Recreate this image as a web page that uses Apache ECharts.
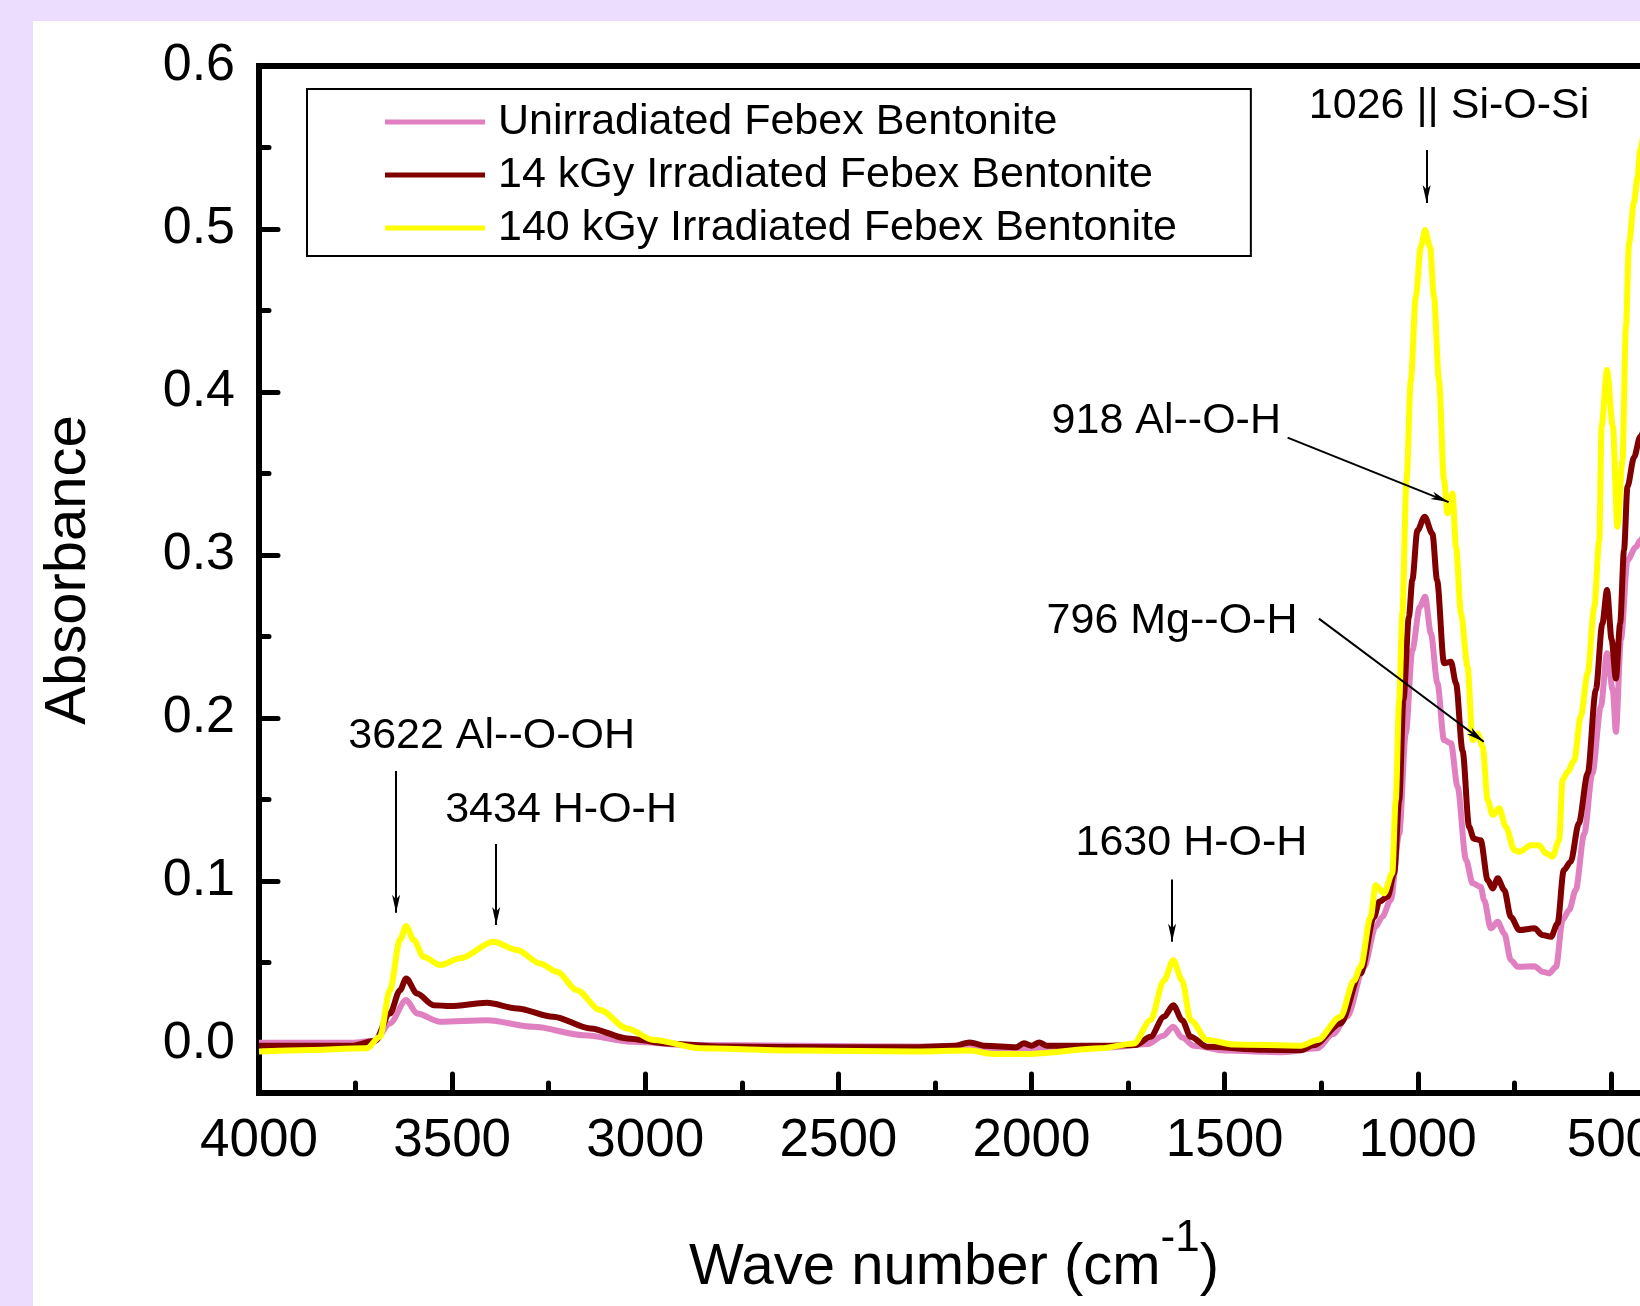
<!DOCTYPE html>
<html>
<head>
<meta charset="utf-8">
<title>FTIR Febex Bentonite</title>
<script src="https://cdn.jsdelivr.net/npm/echarts@6/dist/echarts.min.js"></script>
<style>
html, body { margin: 0; padding: 0; background: #ecdcfd; overflow: hidden; width: 1640px; height: 1306px; }
#main { position: absolute; left: 33px; top: 21px; width: 1807px; height: 1285px; background: #fff; }
</style>
</head>
<body>
<div id="main"></div>
<script>
var FONT = "'Liberation Sans', Arial, sans-serif";

var seriesNames = ['Unirradiated Febex Bentonite', '14 kGy Irradiated Febex Bentonite', '140 kGy Irradiated Febex Bentonite'];
var seriesColors = ['#e080c0', '#800000', '#ffff00'];

// Unirradiated (pink)
var unirrWn  = [4000, 3760, 3700, 3661, 3619, 3591, 3531, 3410, 3289, 3160, 3030, 2900, 2600, 2300, 2160, 2100, 2000, 1800, 1700, 1660, 1633, 1610, 1580, 1500, 1350, 1260, 1220, 1183, 1139, 1109, 1092, 1070, 1048, 1031, 1014, 995, 981, 966, 949, 932, 914, 897, 875, 858, 837, 828, 811, 793, 776, 759, 741, 698, 677, 660, 642, 625, 608, 591, 569, 548, 526, 510, 495, 487, 474, 457, 435, 424, 410];
var unirrAbs = [0.0008, 0.0008, 0.002, 0.0127, 0.027, 0.0188, 0.0137, 0.0147, 0.0106, 0.0055, 0.0014, -0.0005, -0.001, -0.0015, -0.001, -0.003, -0.003, -0.002, 0.0, 0.005, 0.0106, 0.004, -0.001, -0.004, -0.005, -0.0026, 0.006, 0.0168, 0.0474, 0.072, 0.078, 0.0883, 0.129, 0.1906, 0.2417, 0.268, 0.2744, 0.252, 0.2213, 0.1865, 0.1845, 0.158, 0.113, 0.0986, 0.0965, 0.0883, 0.071, 0.075, 0.0679, 0.0515, 0.0474, 0.0478, 0.0444, 0.0434, 0.0474, 0.0761, 0.0822, 0.0945, 0.129, 0.166, 0.207, 0.2397, 0.2172, 0.1916, 0.248, 0.297, 0.305, 0.309, 0.315];

// 14 kGy (dark red)
var kgy14Wn  = [4000, 3760, 3700, 3661, 3635, 3619, 3591, 3548, 3505, 3410, 3332, 3238, 3142, 3047, 2944, 2800, 2500, 2300, 2200, 2160, 2120, 2040, 2020, 2000, 1980, 1960, 1800, 1730, 1692, 1657, 1633, 1610, 1588, 1545, 1400, 1303, 1269, 1200, 1148, 1113, 1100, 1078, 1061, 1048, 1037, 1023, 1014, 1001, 982, 962, 950, 932, 914, 901, 884, 867, 855, 837, 819, 806, 793, 776, 759, 737, 698, 677, 655, 638, 622, 604, 583, 560, 539, 522, 510, 498, 487, 476, 466, 457, 440, 424, 410];
var kgy14Abs = [-0.001, -0.001, 0.002, 0.0188, 0.033, 0.0403, 0.031, 0.0239, 0.0233, 0.0253, 0.0219, 0.0168, 0.0096, 0.0035, 0.0004, -0.0015, -0.002, -0.002, -0.001, 0.001, -0.001, -0.002, 0.0005, -0.001, 0.001, -0.001, -0.001, -0.0005, 0.0045, 0.0168, 0.0239, 0.0147, 0.0045, -0.0017, -0.0035, -0.0037, -0.0006, 0.0127, 0.0434, 0.078, 0.0873, 0.0904, 0.1047, 0.1497, 0.211, 0.262, 0.2847, 0.315, 0.3235, 0.313, 0.2847, 0.2336, 0.2346, 0.2213, 0.180, 0.1333, 0.126, 0.125, 0.1006, 0.0955, 0.1017, 0.0945, 0.078, 0.070, 0.071, 0.0669, 0.0658, 0.074, 0.1067, 0.1119, 0.1354, 0.166, 0.2172, 0.258, 0.2785, 0.248, 0.2243, 0.258, 0.303, 0.342, 0.360, 0.3726, 0.38];

// 140 kGy (yellow)
var kgy140Wn  = [4000, 3894, 3721, 3687, 3661, 3635, 3619, 3600, 3574, 3531, 3479, 3393, 3332, 3272, 3229, 3177, 3117, 3047, 2978, 2857, 2600, 2300, 2160, 2100, 2000, 1821, 1735, 1692, 1657, 1633, 1610, 1588, 1545, 1476, 1303, 1260, 1200, 1165, 1148, 1122, 1109, 1087, 1066, 1057, 1048, 1040, 1029, 1018, 1005, 992, 981, 968, 958, 945, 932, 923, 910, 901, 888, 871, 858, 845, 832, 819, 806, 789, 772, 750, 737, 707, 686, 668, 651, 634, 625, 612, 595, 578, 560, 543, 530, 524, 510, 495, 483, 470, 461, 453, 440, 431, 424, 410];
var kgy140Abs = [-0.0045, -0.0037, -0.0026, 0.0045, 0.033, 0.064, 0.0724, 0.064, 0.0536, 0.0485, 0.0526, 0.0628, 0.0577, 0.0495, 0.0444, 0.0331, 0.0209, 0.0096, 0.0025, -0.0026, -0.004, -0.0045, -0.004, -0.006, -0.006, -0.0026, 0.0004, 0.0147, 0.039, 0.0515, 0.039, 0.0147, 0.0025, -0.0002, -0.001, 0.0025, 0.0168, 0.039, 0.0474, 0.078, 0.0975, 0.0925, 0.1047, 0.1497, 0.211, 0.264, 0.346, 0.407, 0.4585, 0.489, 0.4994, 0.489, 0.4585, 0.407, 0.346, 0.3256, 0.3378, 0.305, 0.264, 0.2315, 0.1865, 0.1906, 0.1824, 0.1497, 0.1405, 0.1446, 0.1333, 0.119, 0.118, 0.122, 0.122, 0.117, 0.115, 0.125, 0.162, 0.167, 0.174, 0.201, 0.2274, 0.268, 0.309, 0.379, 0.4135, 0.379, 0.3174, 0.358, 0.44, 0.491, 0.5166, 0.532, 0.5485, 0.57];

// peak annotations: label text, label anchor [wn, abs], arrow start, arrow tip
var annoText = ['1026 || Si-O-Si', '918 Al--O-H', '796 Mg--O-H', '3622 Al--O-OH', '3434 H-O-H', '1630 H-O-H'];
var annoAt   = [[1282, 0.5755], [1948, 0.382], [1961, 0.2597], [3769, 0.189], [3518, 0.1436], [1886, 0.1233]];
var arrowFrom = [[977, 0.5485], [1337, 0.372], [1256, 0.261], [3645, 0.1675], [3386, 0.1227], [1636, 0.101]];
var arrowTo   = [[977, 0.516], [920, 0.3325], [829, 0.1855], [3645, 0.0806], [3386, 0.073], [1636, 0.0628]];

function pairs(xs, ys) {
    return xs.map(function (x, i) { return [x, ys[i]]; });
}

var chart = echarts.init(document.getElementById('main'), null, { renderer: 'canvas' });

var arrowData = arrowFrom.map(function (p, i) {
    return [{ coord: p }, { coord: arrowTo[i] }];
});

var lineSeries = [pairs(unirrWn, unirrAbs), pairs(kgy14Wn, kgy14Abs), pairs(kgy140Wn, kgy140Abs)].map(function (d, i) {
    var s = {
        name: seriesNames[i],
        type: 'line',
        data: d,
        symbol: 'none',
        smooth: 0.3,
        smoothMonotone: 'x',
        color: seriesColors[i],
        lineStyle: { color: seriesColors[i], width: 6 },
        z: 2 + i
    };
    if (i === 2) {
        // arrows pointing at the peaks
        s.markLine = {
            silent: true,
            animation: false,
            symbol: ['none', 'arrow'],
            symbolSize: [6, 18],
            label: { show: false },
            lineStyle: { color: '#000', width: 2, type: 'solid' },
            data: arrowData
        };
    }
    return s;
});

var option = {
    animation: false,
    grid: {
        left: 226, top: 45, right: 36, bottom: 213,
        show: true, backgroundColor: '#fff', borderColor: '#000', borderWidth: 6
    },
    legend: {
        orient: 'vertical',
        left: 274, top: 68,
        padding: [11, 74, 6, 78],
        borderColor: '#000', borderWidth: 2,
        icon: 'rect',
        itemWidth: 100, itemHeight: 5, itemGap: 9,
        textStyle: { fontFamily: FONT, fontSize: 43, color: '#000', lineHeight: 44, padding: [0, 0, 0, 8] },
        data: seriesNames
    },
    xAxis: {
        type: 'value',
        inverse: true,
        min: 0, max: 4000, interval: 500,
        axisLine: { show: true, onZero: false, lineStyle: { color: '#000', width: 6 } },
        axisTick: { show: true, inside: true, length: 19, lineStyle: { color: '#000', width: 5, cap: 'round' } },
        minorTick: { show: true, splitNumber: 2, length: 10, lineStyle: { color: '#000', width: 5, cap: 'round' } },
        axisLabel: {
            fontFamily: FONT, fontSize: 53, color: '#000', margin: 22,
            formatter: function (v) { return String(v); }
        },
        splitLine: { show: false }
    },
    yAxis: {
        type: 'value',
        min: -0.03, max: 0.6, splitNumber: 6,
        axisLine: { show: true, onZero: false, lineStyle: { color: '#000', width: 6 } },
        axisTick: { show: true, inside: true, length: 19, lineStyle: { color: '#000', width: 5, cap: 'round' } },
        minorTick: { show: true, splitNumber: 2, length: 10, lineStyle: { color: '#000', width: 5, cap: 'round' } },
        axisLabel: {
            fontFamily: FONT, fontSize: 52, color: '#000', margin: 24, showMinLabel: false,
            formatter: function (v) { return v.toFixed(1); }
        },
        splitLine: { show: false }
    },
    series: lineSeries
};

chart.setOption(option);

// texts placed from data coordinates
var graphics = annoText.map(function (t, i) {
    var p = chart.convertToPixel({ gridIndex: 0 }, annoAt[i]);
    return {
        type: 'text', x: p[0], y: p[1], z: 10,
        style: { text: t, font: '43px ' + FONT, fill: '#000', align: 'left', verticalAlign: 'middle' }
    };
});
graphics.push({
    type: 'text', x: 36, y: 549, rotation: Math.PI / 2, z: 10,
    style: { text: 'Absorbance', font: '58px ' + FONT, fill: '#000', align: 'center', verticalAlign: 'middle' }
});
graphics.push({
    type: 'text', x: 921, y: 1236, z: 10,
    style: {
        text: '{a|Wave number (cm}{s|-1}{a|)}',
        align: 'center', verticalAlign: 'middle',
        rich: {
            a: { fontFamily: FONT, fontSize: 58, lineHeight: 80, verticalAlign: 'bottom', fill: '#000' },
            s: { fontFamily: FONT, fontSize: 44, lineHeight: 46, verticalAlign: 'top', fill: '#000' }
        }
    }
});
chart.setOption({ graphic: graphics });
</script>
</body>
</html>
